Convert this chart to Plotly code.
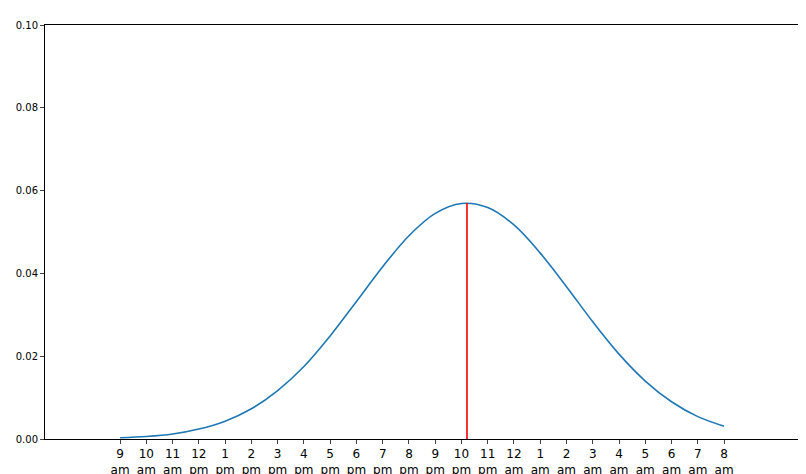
import plotly.graph_objects as go

tick_labels = ["9<br>am","10<br>am","11<br>am","12<br>pm","1<br>pm","2<br>pm","3<br>pm","4<br>pm","5<br>pm",
               "6<br>pm","7<br>pm","8<br>pm","9<br>pm","10<br>pm","11<br>pm","12<br>am","1<br>am","2<br>am",
               "3<br>am","4<br>am","5<br>am","6<br>am","7<br>am","8<br>am"]
tick_pos = list(range(24))
curve_x = list(range(24))
curve_y = [0.0003, 0.0006, 0.0012, 0.0024, 0.0043, 0.0073, 0.0117, 0.0175, 0.0249, 0.0332,
           0.0416, 0.0491, 0.0545, 0.0569, 0.0559, 0.0517, 0.0449, 0.0368, 0.0283, 0.0205,
           0.0140, 0.0090, 0.0054, 0.0031]
mean_x = 13.21
peak_y = 0.057

fig = go.Figure()
fig.add_trace(go.Scatter(x=curve_x, y=curve_y, mode="lines", line=dict(color="#1f77b4", width=1.6, shape="spline")))
fig.add_trace(go.Scatter(x=[mean_x, mean_x], y=[0, peak_y], mode="lines", line=dict(color="red", width=1.6)))
fig.update_layout(
    width=806, height=474, showlegend=False, plot_bgcolor="white", paper_bgcolor="white",
    margin=dict(l=37, r=13, t=17, b=43, autoexpand=False),
    font=dict(family="DejaVu Sans", color="black"),
)
fig.update_xaxes(range=[-2.86, 25.93], tickvals=tick_pos, ticktext=tick_labels, showgrid=False,
                 showline=True, linecolor="black", mirror=True, ticks="outside", ticklen=4,
                 tickfont=dict(size=12), zeroline=False, automargin=False)
fig.update_yaxes(range=[0, 0.1], tickvals=[0, 0.02, 0.04, 0.06, 0.08, 0.1],
                 ticktext=["0.00", "0.02", "0.04", "0.06", "0.08", "0.10"], showgrid=False,
                 showline=True, linecolor="black", mirror=True, ticks="outside", ticklen=4,
                 tickfont=dict(size=10), zeroline=False, automargin=False)
fig.write_html("out.html")
